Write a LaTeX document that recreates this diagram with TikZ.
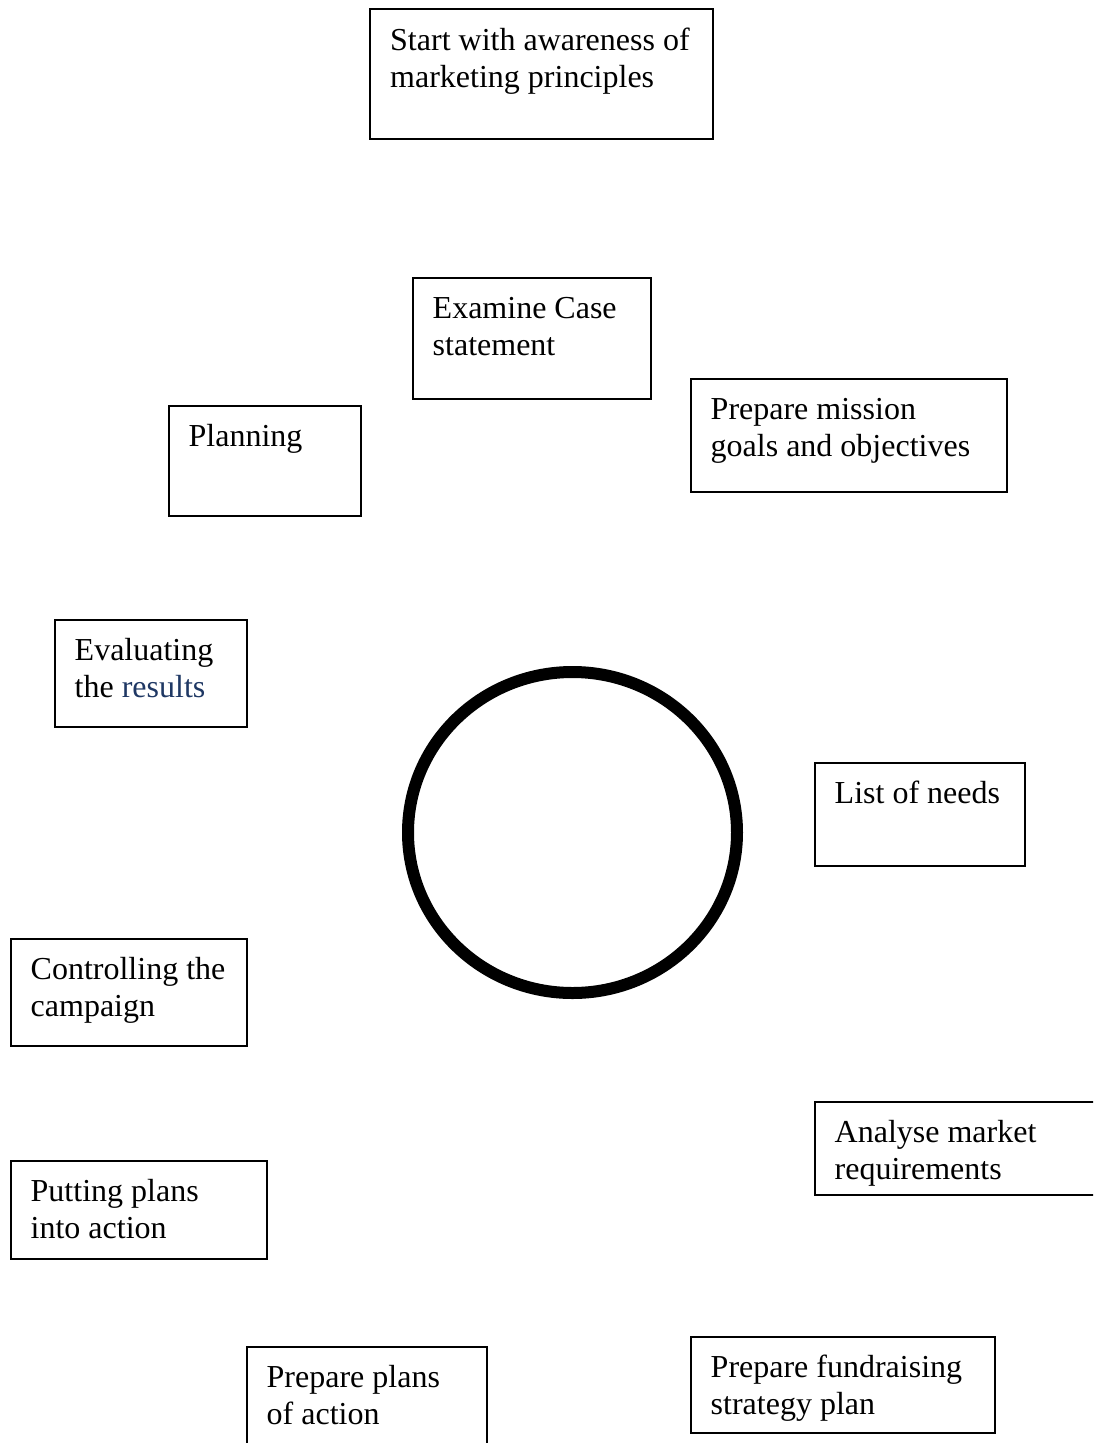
\documentclass[tikz,border=0pt]{standalone}
\usepackage{fontspec}
\setmainfont{Liberation Serif}
\usetikzlibrary{calc}
\definecolor{resblue}{RGB}{31,56,100}
\begin{document}
\begin{tikzpicture}[x=1pt,y=-1pt,
  box/.style={draw=black, line width=2.2pt, rectangle, inner sep=0pt, anchor=north west},
  lbl/.style={inner sep=0pt, anchor=base west, align=left, font=\fontsize{32}{37.5}\selectfont}]
\useasboundingbox (0,0) rectangle (1093,1443);
\fill[white] (0,0) rectangle (1093,1443);
\clip (0,0) rectangle (1093,1443);
% boxes
\node[box, minimum width=343pt, minimum height=130pt] (start) at (369,8) {};
\node[box, minimum width=238pt, minimum height=121pt] (exam) at (412,277) {};
\node[box, minimum width=316pt, minimum height=113pt] (miss) at (690,378) {};
\node[box, minimum width=192pt, minimum height=110pt] (plan) at (168,405) {};
\node[box, minimum width=192pt, minimum height=107pt] (eval) at (54,619) {};
\node[box, minimum width=210pt, minimum height=103pt] (needs) at (814,762) {};
\node[box, minimum width=236pt, minimum height=107pt] (ctrl) at (10,938) {};
\node[box, minimum width=300pt, minimum height=93pt] (anal) at (814,1101) {};
\node[box, minimum width=256pt, minimum height=98pt] (put) at (10,1160) {};
\node[box, minimum width=240pt, minimum height=120pt] (pact) at (246,1346) {};
\node[box, minimum width=304pt, minimum height=96pt] (fund) at (690,1336) {};
% circle
\draw[line width=12pt] (572.5,832.5) ellipse [x radius=164.5, y radius=160.5];
% labels (anchor is the baseline of the last line)
\node[lbl] (tstart) at ($(start.north west)+(21,79.5)$) {Start with awareness of\\marketing principles};
\node[lbl] (texam) at ($(exam.north west)+(20.5,78.5)$) {Examine Case\\statement};
\node[lbl] (tmiss) at ($(miss.north west)+(20.5,78.5)$) {Prepare mission\\goals and objectives};
\node[lbl] (tplan) at ($(plan.north west)+(20.5,41)$) {Planning};
\node[lbl] (teval) at ($(eval.north west)+(20.5,78.5)$) {Evaluating\\the \textcolor{resblue}{results}};
\node[lbl] (tneeds) at ($(needs.north west)+(20.5,41)$) {List of needs};
\node[lbl] (tctrl) at ($(ctrl.north west)+(20.5,78.5)$) {Controlling the\\campaign};
\node[lbl] (tanal) at ($(anal.north west)+(20.5,78.5)$) {Analyse market\\requirements};
\node[lbl] (tput) at ($(put.north west)+(20.5,78.5)$) {Putting plans\\into action};
\node[lbl] (tpact) at ($(pact.north west)+(20.5,78.5)$) {Prepare plans\\of action};
\node[lbl] (tfund) at ($(fund.north west)+(20.5,78.5)$) {Prepare fundraising\\strategy plan};
\end{tikzpicture}
\end{document}
